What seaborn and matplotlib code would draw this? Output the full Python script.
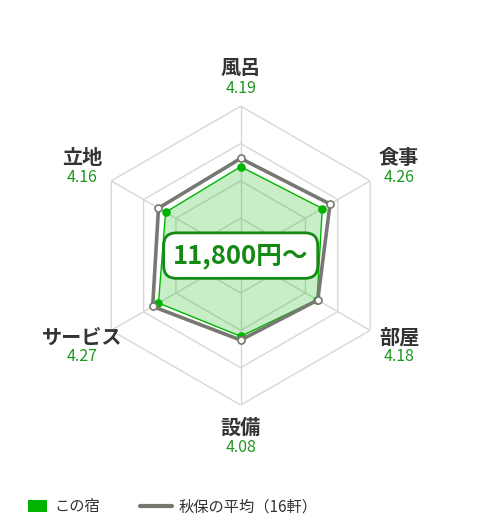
import numpy as np
import pandas as pd
import matplotlib
matplotlib.use("Agg")
import matplotlib.pyplot as plt
import matplotlib.transforms as mtransforms
from matplotlib.patches import Patch
from matplotlib.lines import Line2D
import seaborn as sns

# ---- data ----
categories = ["風呂", "食事", "部屋", "設備", "サービス", "立地"]
inn_scores = [4.19, 4.26, 4.18, 4.08, 4.27, 4.16]
area_avg = [4.30, 4.38, 4.19, 4.13, 4.36, 4.27]
value_labels = ["4.19", "4.26", "4.18", "4.08", "4.27", "4.16"]
ring_levels = [3.5, 4.0, 4.5, 5.0]
price_text = "11,800円〜"
legend_labels = ["この宿", "秋保の平均（16軒）"]

sns.set_theme(style="white")
plt.rcParams['font.family'] = ['Noto Sans CJK JP', 'DejaVu Sans']

W, H, DPI = 480, 530, 100
fig = plt.figure(figsize=(W / DPI, H / DPI), dpi=DPI)
cx, cy, R = 240.7, 255.6, 149.5
ax = fig.add_axes([(cx - R) / W, 1 - (cy + R) / H, 2 * R / W, 2 * R / H], projection='polar')
ax.set_theta_offset(np.pi / 2)
ax.set_theta_direction(-1)
ax.set_ylim(3, 5)
ax.grid(False)
ax.set_xticks([])
ax.set_yticks([])
ax.spines['polar'].set_visible(False)
ax.set_facecolor('none')

n = len(categories)
theta = np.arange(n) * 2 * np.pi / n
theta_c = np.append(theta, 2 * np.pi)

grid_col = '#d8d8d0'
for lv in ring_levels:
    ax.plot(theta_c, [lv] * (n + 1), color=grid_col, lw=1, zorder=1)
for t in theta:
    ax.plot([t, t], [3, 5], color=grid_col, lw=1, zorder=1)

green = '#00b400'
gray = '#787872'
inn_c = np.append(inn_scores, inn_scores[0])
avg_c = np.append(area_avg, area_avg[0])

ax.fill(theta_c, inn_c, color=green, alpha=0.22, lw=0, zorder=2)
df_inn = pd.DataFrame({'t': theta_c, 'r': inn_c})
df_avg = pd.DataFrame({'t': theta_c, 'r': avg_c})
sns.lineplot(data=df_inn, x='t', y='r', sort=False, estimator=None, ax=ax,
             color=green, lw=1, zorder=3)
sns.scatterplot(x=theta, y=inn_scores, ax=ax, color=green, s=38, edgecolor=green,
                linewidth=0, zorder=4)
sns.lineplot(data=df_avg, x='t', y='r', sort=False, estimator=None, ax=ax,
             color=gray, lw=2.6, zorder=5)
sns.scatterplot(x=theta, y=area_avg, ax=ax, color='white', s=26, edgecolor=gray,
                linewidth=1.2, zorder=6)
ax.set_xlabel('')
ax.set_ylabel('')
ax.set_ylim(3, 5)

# labels: offsets (px) from outer vertex
name_off = [(0, 39), (29, 23.4), (29, -6.6), (0, -22.3), (-29, -6.6), (-29, 23.4)]
val_off = [(0, 18), (29, 3.4), (29, -26.3), (0, -42.8), (-29, -26.3), (-29, 3.4)]
for i in range(n):
    tr = mtransforms.offset_copy(ax.transData, fig=fig, x=name_off[i][0], y=name_off[i][1], units='dots')
    ax.text(theta[i], 5, categories[i], transform=tr, ha='center', va='center',
            fontsize=14.5, fontweight='bold', color='#333333', clip_on=False)
    tr2 = mtransforms.offset_copy(ax.transData, fig=fig, x=val_off[i][0], y=val_off[i][1], units='dots')
    ax.text(theta[i], 5, value_labels[i], transform=tr2, ha='center', va='center',
            fontsize=11.5, color='#1e961e', clip_on=False)

# price box
ax.text(0.5, 0.5, price_text, transform=ax.transAxes, ha='center', va='center',
        fontsize=18.5, fontweight='bold', color='#148a14', zorder=10,
        bbox=dict(boxstyle='round,pad=0.36,rounding_size=0.5', facecolor='white',
                  edgecolor='#148a14', linewidth=2))

leg1 = fig.legend([Patch(facecolor=green, edgecolor='none')], legend_labels[:1],
                  loc='center left', bbox_to_anchor=(28 / W, 1 - 507 / H),
                  frameon=False, fontsize=11, handlelength=1.25, handleheight=0.78,
                  handletextpad=0.45, borderaxespad=0, borderpad=0, labelcolor='#333333')
leg2 = fig.legend([Line2D([0], [0], color=gray, lw=3)], legend_labels[1:],
                  loc='center left', bbox_to_anchor=(140 / W, 1 - 507 / H),
                  frameon=False, fontsize=11, handlelength=2.1,
                  handletextpad=0.4, borderaxespad=0, borderpad=0, labelcolor='#333333')

fig.savefig('out.png', dpi=DPI, facecolor='white')
